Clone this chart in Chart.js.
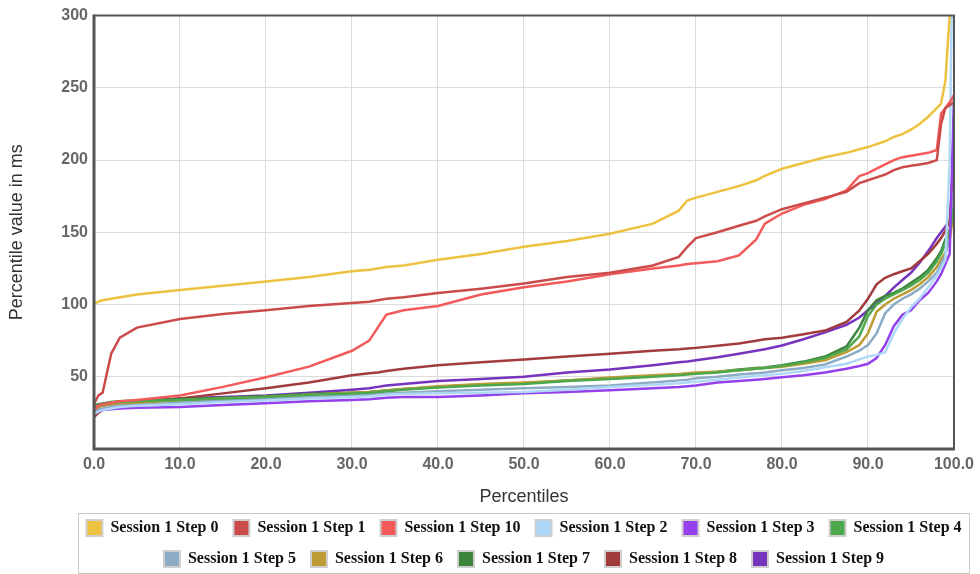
<!DOCTYPE html>
<html>
<head>
<meta charset="utf-8">
<script src="https://cdn.jsdelivr.net/npm/chart.js@4.4.1/dist/chart.umd.min.js"></script>
<style>
  html, body { margin: 0; padding: 0; background: #fff; }
</style>
</head>
<body>
<canvas id="chart" width="980" height="574"></canvas>
<script>
// Percentiles shared by every series (x axis)
const pct = [0, 0.5, 1, 2, 3, 5, 10, 15, 20, 25, 30, 32, 33, 34, 36, 40, 45, 50, 55, 60, 65, 68, 69, 70,
  72.5, 75, 77, 78, 80, 82.5, 85, 87.5, 89, 90, 91, 92, 93, 94, 95, 96, 97, 98, 98.5, 99, 99.5, 100];

// Percentile values in ms
const step0 = [100, 102, 103, 104, 105, 107, 110, 113, 116, 119, 123, 124, 125, 126, 127, 131, 135, 140, 144, 149, 156, 165, 172, 174,
  178, 182, 186, 189, 194, 198, 202, 205, 207.5, 209, 211, 213, 216, 218, 221, 225, 230, 236, 239, 255, 300, 420];
const step1 = [31, 37, 39, 66, 77, 84, 90, 93.5, 96, 99, 101, 102, 103, 104, 105, 108, 111, 114.5, 119, 122, 127, 133, 140, 146,
  150, 154.5, 158, 161, 166, 170, 174, 178, 184, 186, 188, 190, 193, 195, 196, 197, 198, 200, 225, 236, 238, 240];
const step10 = [27, 30, 31, 32, 33, 34, 37, 43, 49.7, 57, 68, 75, 84, 93, 96, 99, 107, 112, 116, 121, 125, 127, 128, 128.5,
  130, 134, 145, 156, 163, 169, 173, 179, 189, 191, 194, 197, 200, 202, 203, 204, 205, 207, 232, 236, 240, 245];
const step2 = [24, 26, 27, 28, 29, 30, 31, 32.5, 33.5, 35, 36, 36.5, 37, 37.5, 38, 38.6, 39, 39.5, 41, 43, 44.5, 45.5, 46, 46.5,
  48, 49.5, 50.5, 51, 52, 54, 56.6, 59, 62, 64, 65, 67, 80, 90, 98, 104, 112, 120, 125, 131, 200, 420];
const step3 = [24, 26, 27, 27.5, 28, 28.5, 29, 30.5, 31.7, 33, 34, 34.5, 35, 35.5, 36, 36, 37, 38.6, 39.5, 40.7, 42, 43, 43.5, 44,
  46, 47, 48, 48.5, 49.7, 51, 53, 55.5, 57.5, 59, 63, 72, 85, 93, 96, 103, 108, 116, 121, 128, 135, 244];
const step4 = [29, 30, 31, 32, 32.5, 33, 34, 35, 36, 37.5, 38.5, 39, 39.5, 40, 41, 42.5, 44, 45, 47, 48.5, 50, 51, 51.5, 52,
  53, 54.5, 55.5, 56, 57.5, 60, 63, 69, 78, 92, 100, 104, 107, 110, 113, 117, 122, 130, 135, 142, 150, 168];
const step5 = [25, 27, 28, 29, 30, 30.5, 32, 33.5, 34.5, 36, 37, 37.5, 38, 38.5, 39, 40, 41, 42, 43, 44, 46, 47.5, 48, 49,
  50, 51.5, 52.5, 53, 54.5, 56, 58.5, 64, 68, 72, 80, 94, 100, 104, 107, 111, 116, 122, 128, 134, 150, 180];
const step6 = [27, 29, 30, 31, 31.5, 32, 33.5, 35, 36, 37.5, 39, 39.5, 40, 40.5, 41.5, 43.5, 45, 46, 47.5, 49.5, 51, 52, 52.5, 53,
  53.5, 54.5, 55.5, 56, 57, 59, 61.4, 67, 72, 80, 95, 100, 104, 107, 110, 114, 119, 126, 131, 136, 145, 165];
const step7 = [30, 31, 31.5, 32.5, 33, 33.5, 34.5, 35.5, 36.5, 38, 39, 39.5, 40, 40.5, 41.5, 43, 44.5, 45.5, 47.5, 49, 50.5, 51.5, 52, 52.5,
  53.5, 55, 56, 56.5, 58, 60.5, 64, 71, 84, 96, 103, 106, 108, 111, 115, 119, 124, 132, 137, 145, 152, 160];
const step8 = [22, 25, 27, 29, 30, 32, 35, 38.5, 42, 46, 51, 52.5, 53, 54, 55.5, 58, 60, 62, 64, 66, 68, 69, 69.5, 70,
  71.5, 73, 75, 76, 77, 79.5, 82, 88, 96, 104, 114, 118.5, 121, 123, 125, 130, 135, 142, 146, 151, 158, 205];
const step9 = [26, 29, 30, 31, 32, 33, 35, 36, 37, 39, 41, 42, 43, 44, 45, 47, 48.5, 50, 53, 55, 58, 60, 60.5, 61.4,
  63.5, 66, 68, 69, 71.7, 76, 80.7, 86, 91, 96, 101, 106, 111.7, 117, 122, 129, 137, 146, 150, 154, 158, 165];

const seriesNames = ['Session 1 Step 0', 'Session 1 Step 1', 'Session 1 Step 10', 'Session 1 Step 2', 'Session 1 Step 3',
  'Session 1 Step 4', 'Session 1 Step 5', 'Session 1 Step 6', 'Session 1 Step 7', 'Session 1 Step 8', 'Session 1 Step 9'];
const seriesValues = [step0, step1, step10, step2, step3, step4, step5, step6, step7, step8, step9];
const seriesColors = ['#EDC240', '#CB4B4B', '#F35A5A', '#AFD8F8', '#9440ED', '#4DA74D',
  '#8CACC6', '#BD9B33', '#3D853D', '#A23C3C', '#7633BD'];

const yTicks = [50, 100, 150, 200, 250, 300];

const datasets = seriesNames.map((name, i) => ({
  label: name,
  data: pct.map((p, j) => ({ x: p, y: seriesValues[i][j] })),
  borderColor: seriesColors[i],
  backgroundColor: seriesColors[i],
  borderWidth: 2.5,
  pointRadius: 0,
  fill: false,
  tension: 0
}));

// frame round the plot area (thick left/bottom, thinner top/right)
const plotFrame = {
  id: 'plotFrame',
  afterDraw(chart) {
    const { ctx, chartArea: a } = chart;
    ctx.save();
    ctx.strokeStyle = '#555';
    ctx.lineWidth = 2;
    ctx.beginPath();
    ctx.moveTo(a.left, a.top);
    ctx.lineTo(a.right, a.top);
    ctx.lineTo(a.right, a.bottom);
    ctx.stroke();
    ctx.lineWidth = 3;
    ctx.beginPath();
    ctx.moveTo(a.left, a.top - 1);
    ctx.lineTo(a.left, a.bottom);
    ctx.lineTo(a.right + 1, a.bottom);
    ctx.stroke();
    ctx.restore();
  }
};

// legend is centred under the plot area, not the canvas; light box round it
const legendFrame = {
  id: 'legendFrame',
  afterUpdate(chart) {
    const lg = chart.legend;
    const a = chart.chartArea;
    const dx = (a.left + a.right) / 2 - (lg.left + lg.right) / 2;
    const dy = 3;
    lg.left += dx;
    lg.right += dx;
    lg.top += dy;
    lg.bottom += dy;
    (lg.legendHitBoxes || []).forEach(h => { h.left += dx; h.top += dy; });
  },
  afterDraw(chart) {
    const boxes = chart.legend.legendHitBoxes;
    if (!boxes || !boxes.length) return;
    let l = Infinity, r = -Infinity, t = Infinity, b = -Infinity;
    boxes.forEach(h => {
      l = Math.min(l, h.left);
      r = Math.max(r, h.left + h.width);
      t = Math.min(t, h.top);
      b = Math.max(b, h.top + h.height);
    });
    const ctx = chart.ctx;
    ctx.save();
    ctx.strokeStyle = '#c8c8c8';
    ctx.lineWidth = 1;
    ctx.strokeRect(Math.round(l - 8) + 0.5, Math.round(t - 7) + 0.5, Math.round(r - l + 16), Math.round(b - t + 13));
    ctx.restore();
  }
};

const tickFont = { family: 'Liberation Sans, Arial, sans-serif', size: 16, weight: 'bold' };
const titleFont = { family: 'Liberation Sans, Arial, sans-serif', size: 18 };

new Chart(document.getElementById('chart'), {
  type: 'line',
  data: { datasets },
  options: {
    responsive: false,
    animation: false,
    layout: { padding: { top: 14, left: 0, right: 26, bottom: 0 } },
    plugins: {
      tooltip: { enabled: false },
      legend: {
        position: 'bottom',
        labels: {
          color: '#111',
          font: { family: 'Liberation Serif, Times New Roman, serif', size: 16, weight: 'bold' },
          boxWidth: 16,
          boxHeight: 16,
          padding: 15,
          generateLabels(chart) {
            return Chart.defaults.plugins.legend.labels.generateLabels(chart).map(item => ({
              ...item,
              fillStyle: seriesColors[item.datasetIndex],
              strokeStyle: '#cfcfcf',
              lineWidth: 2
            }));
          }
        }
      }
    },
    scales: {
      x: {
        type: 'linear',
        min: 0,
        max: 100,
        afterFit(scale) { scale.height = 53; },
        ticks: {
          stepSize: 10,
          color: '#666',
          font: tickFont,
          padding: 6,
          maxRotation: 0,
          callback: v => v.toFixed(1)
        },
        grid: { color: '#dcdcdc', drawTicks: false },
        border: { display: false },
        title: { display: true, text: 'Percentiles', color: '#333', font: titleFont, padding: { top: 0, bottom: -6 } }
      },
      y: {
        min: 0,
        max: 300,
        afterFit(scale) { scale.width = 94; },
        afterBuildTicks(scale) { scale.ticks = [0].concat(yTicks).map(v => ({ value: v })); },
        ticks: {
          color: '#666',
          font: tickFont,
          padding: 6,
          callback: v => (v === 0 ? '' : v)
        },
        grid: { color: '#dcdcdc', drawTicks: false },
        border: { display: false },
        title: { display: true, text: 'Percentile value in ms', color: '#333', font: titleFont, padding: { top: 6, bottom: 0 } }
      }
    }
  },
  plugins: [plotFrame, legendFrame]
});
</script>
</body>
</html>
